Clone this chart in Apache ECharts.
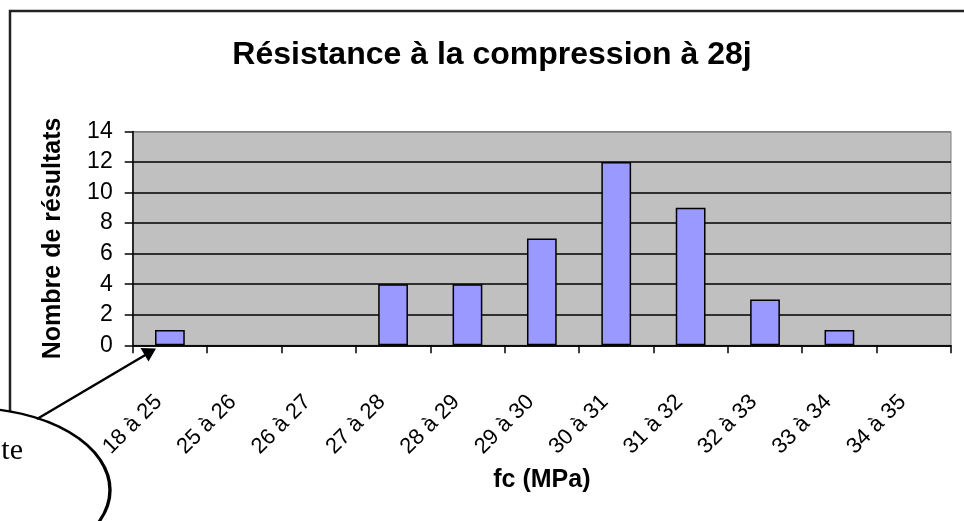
<!DOCTYPE html>
<html>
<head>
<meta charset="utf-8">
<script src="https://cdn.jsdelivr.net/npm/echarts@6/dist/echarts.min.js"></script>
<style>
html,body{margin:0;padding:0;background:#fff;}
#chart{width:964px;height:521px;}
</style>
</head>
<body>
<div id="chart"></div>
<script>
// ---- data ----
const categories = ['18 à 25','25 à 26','26 à 27','27 à 28','28 à 29','29 à 30','30 à 31','31 à 32','32 à 33','33 à 34','34 à 35'];
const counts = [1, 0, 0, 4, 4, 7, 12, 9, 3, 1, 0];
const yTicks = {min: 0, max: 14, interval: 2};
const titleText = 'Résistance à la compression à 28j';
const xName = 'fc (MPa)';
const yName = 'Nombre de résultats';
const calloutText = 'te';

const FONT = 'Arial, "Liberation Sans", sans-serif';
const chart = echarts.init(document.getElementById('chart'), null, {renderer: 'canvas'});

// empty classes draw no bar (Excel draws nothing for a zero count)
const barData = counts.map(v => (v === 0 ? null : v));

const option = {
  backgroundColor: '#ffffff',
  animation: false,
  title: {
    text: titleText,
    left: 492,
    top: 39,
    textAlign: 'center',
    padding: 0,
    textStyle: {fontFamily: FONT, fontWeight: 'bold', fontSize: 32, color: '#000'}
  },
  grid: {
    left: 132.7, right: 13, top: 131.5, bottom: 175.7,
    show: true, backgroundColor: '#C0C0C0', borderColor: '#808080', borderWidth: 1,
    containLabel: false
  },
  xAxis: {
    type: 'category',
    data: categories,
    boundaryGap: true,
    name: xName,
    nameLocation: 'middle',
    nameGap: 122,
    nameTextStyle: {fontFamily: FONT, fontWeight: 'bold', fontSize: 25, color: '#000'},
    axisLine: {show: true, lineStyle: {color: '#000', width: 1.5}},
    axisTick: {show: true, length: 8, lineStyle: {color: '#000', width: 1.5}},
    axisLabel: {
      interval: 0, rotate: 45, margin: 42, padding: [0, 16, 0, 0],
      fontFamily: FONT, fontSize: 22, color: '#000'
    },
    splitLine: {show: false}
  },
  yAxis: {
    type: 'value',
    min: yTicks.min, max: yTicks.max, interval: yTicks.interval,
    name: yName,
    nameLocation: 'middle',
    nameGap: 67,
    nameRotate: 90,
    nameTextStyle: {fontFamily: FONT, fontWeight: 'bold', fontSize: 25, color: '#000'},
    axisLine: {show: true, lineStyle: {color: '#000', width: 1.5}},
    axisTick: {show: true, length: 8, lineStyle: {color: '#000', width: 1.5}},
    axisLabel: {margin: 20, fontFamily: FONT, fontSize: 23, color: '#000'},
    splitLine: {show: true, lineStyle: {color: ['#000','#000','#000','#000','#000','#000','#000','#808080'], width: 1.5}}
  },
  series: [{
    type: 'bar',
    data: barData,
    barCategoryGap: '60%',
    itemStyle: {color: '#9999FF', borderColor: '#000', borderWidth: 1.5},
    z: 3
  }],
  graphic: [
    // outer chart-area frame (top and left edges visible)
    {type: 'polyline', z: 1, silent: true,
     shape: {points: [[10, 470], [10, 11], [964, 11]]},
     style: {stroke: '#222', lineWidth: 2.5, fill: null}},
    // callout arrow
    {type: 'line', z: 20, silent: true,
     shape: {x1: 37, y1: 419, x2: 147, y2: 354},
     style: {stroke: '#000', lineWidth: 2.5}},
    {type: 'polygon', z: 20, silent: true,
     shape: {points: [[156, 348.5], [140.5, 348.0], [148.5, 361.5]]},
     style: {fill: '#000'}},
    // callout ellipse
    {type: 'circle', z: 15, silent: true,
     x: -30, y: 490, scaleX: 140 / 82,
     shape: {cx: 0, cy: 0, r: 82},
     style: {fill: '#fff', stroke: '#000', lineWidth: 2, strokeNoScale: true}},
    {type: 'text', z: 21, silent: true,
     x: 23, y: 451,
     style: {text: calloutText, font: '30px "Liberation Serif", "Times New Roman", serif', fill: '#000', textAlign: 'right', textVerticalAlign: 'middle'}}
  ]
};
chart.setOption(option);
</script>
</body>
</html>
